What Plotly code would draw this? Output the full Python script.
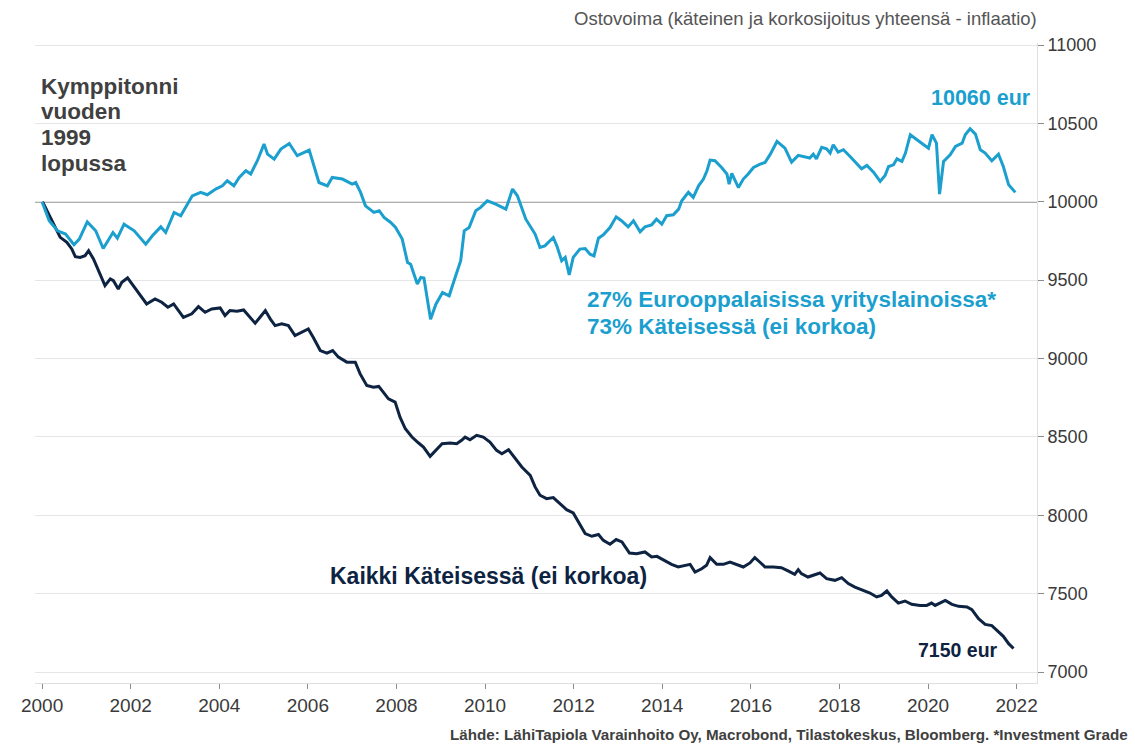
import plotly.graph_objects as go

# --- Data ---
mix_dates = [2000.00, 2000.16, 2000.35, 2000.53, 2000.72, 2000.84, 2001.02, 2001.21, 2001.38, 2001.51,
             2001.60, 2001.70, 2001.85, 2002.08, 2002.34, 2002.49, 2002.68, 2002.79, 2002.98, 2003.13,
             2003.24, 2003.39, 2003.58, 2003.73, 2003.92, 2004.07, 2004.18, 2004.33, 2004.45, 2004.60,
             2004.71, 2004.86, 2005.01, 2005.09, 2005.24, 2005.39, 2005.58, 2005.76, 2006.03, 2006.25,
             2006.44, 2006.55, 2006.78, 2006.89, 2007.00, 2007.08, 2007.19, 2007.30, 2007.49, 2007.61,
             2007.72, 2007.87, 2007.98, 2008.13, 2008.25, 2008.32, 2008.47, 2008.55, 2008.62, 2008.77,
             2008.89, 2009.04, 2009.19, 2009.30, 2009.45, 2009.53, 2009.64, 2009.79, 2009.90, 2010.05,
             2010.24, 2010.47, 2010.62, 2010.73, 2010.92, 2011.13, 2011.24, 2011.35, 2011.47, 2011.54,
             2011.62, 2011.73, 2011.81, 2011.90, 2011.99, 2012.14, 2012.26, 2012.37, 2012.46, 2012.56,
             2012.67, 2012.82, 2012.96, 2013.08, 2013.23, 2013.35, 2013.50, 2013.61, 2013.76, 2013.87,
             2013.99, 2014.10, 2014.25, 2014.37, 2014.44, 2014.59, 2014.70, 2014.82, 2014.93, 2015.01,
             2015.08, 2015.19, 2015.34, 2015.46, 2015.51, 2015.57, 2015.72, 2015.83, 2015.94, 2016.06,
             2016.21, 2016.32, 2016.44, 2016.59, 2016.77, 2016.92, 2017.07, 2017.22, 2017.33, 2017.41,
             2017.48, 2017.60, 2017.71, 2017.79, 2017.86, 2017.97, 2018.09, 2018.24, 2018.35, 2018.50,
             2018.62, 2018.77, 2018.92, 2019.03, 2019.11, 2019.22, 2019.30, 2019.41, 2019.49, 2019.60,
             2019.75, 2019.90, 2020.01, 2020.09, 2020.19, 2020.26, 2020.35, 2020.50, 2020.62, 2020.77,
             2020.84, 2020.95, 2021.07, 2021.18, 2021.29, 2021.44, 2021.59, 2021.70, 2021.82, 2021.97]
mix_values = [10000, 9879, 9815, 9794, 9726, 9762, 9872, 9815, 9702, 9762,
              9804, 9768, 9857, 9815, 9730, 9783, 9840, 9804, 9932, 9911,
              9964, 10038, 10060, 10045, 10081, 10102, 10134, 10102, 10155, 10198,
              10177, 10262, 10368, 10304, 10272, 10336, 10372, 10294, 10330, 10123,
              10102, 10155, 10145, 10130, 10113, 10123, 10060, 9974, 9932, 9943,
              9900, 9868, 9836, 9762, 9613, 9602, 9475, 9517, 9513, 9251,
              9347, 9421, 9400, 9496, 9624, 9815, 9836, 9943, 9964, 10006,
              9985, 9953, 10081, 10038, 9889, 9794, 9709, 9719, 9751, 9772,
              9719, 9624, 9645, 9534, 9645, 9698, 9702, 9666, 9655, 9768,
              9789, 9836, 9904, 9879, 9840, 9879, 9809, 9840, 9853, 9889,
              9857, 9911, 9917, 9953, 10006, 10060, 10028, 10102, 10145, 10198,
              10266, 10262, 10219, 10177, 10113, 10181, 10091, 10145, 10177, 10219,
              10240, 10251, 10304, 10385, 10342, 10253, 10296, 10289, 10279, 10304,
              10274, 10347, 10338, 10311, 10364, 10317, 10332, 10289, 10257, 10211,
              10232, 10189, 10130, 10168, 10225, 10236, 10274, 10257, 10311, 10428,
              10396, 10364, 10342, 10428, 10374, 10049, 10257, 10300, 10353, 10374,
              10428, 10466, 10432, 10332, 10311, 10262, 10304, 10225, 10108, 10060]

cash_dates = [2000.01, 2000.18, 2000.41, 2000.56, 2000.67, 2000.75, 2000.86, 2000.97, 2001.05, 2001.16,
              2001.27, 2001.42, 2001.54, 2001.61, 2001.72, 2001.80, 2001.93, 2002.06, 2002.21, 2002.36,
              2002.55, 2002.70, 2002.84, 2002.97, 2003.08, 2003.19, 2003.38, 2003.53, 2003.68, 2003.83,
              2004.02, 2004.13, 2004.24, 2004.40, 2004.55, 2004.66, 2004.81, 2004.92, 2005.04, 2005.15,
              2005.26, 2005.41, 2005.56, 2005.71, 2005.86, 2006.01, 2006.12, 2006.28, 2006.43, 2006.56,
              2006.69, 2006.88, 2007.07, 2007.18, 2007.33, 2007.48, 2007.60, 2007.71, 2007.82, 2007.97,
              2008.08, 2008.20, 2008.35, 2008.50, 2008.61, 2008.76, 2008.88, 2009.03, 2009.21, 2009.36,
              2009.47, 2009.55, 2009.66, 2009.81, 2009.96, 2010.11, 2010.26, 2010.38, 2010.53, 2010.68,
              2010.83, 2011.02, 2011.13, 2011.24, 2011.39, 2011.54, 2011.69, 2011.84, 2011.99, 2012.11,
              2012.26, 2012.41, 2012.56, 2012.67, 2012.82, 2012.96, 2013.09, 2013.26, 2013.42, 2013.61,
              2013.76, 2013.88, 2014.03, 2014.21, 2014.36, 2014.51, 2014.63, 2014.74, 2014.89, 2015.00,
              2015.08, 2015.23, 2015.38, 2015.53, 2015.68, 2015.83, 2015.98, 2016.09, 2016.20, 2016.32,
              2016.51, 2016.69, 2016.84, 2016.99, 2017.07, 2017.14, 2017.29, 2017.41, 2017.56, 2017.71,
              2017.90, 2018.05, 2018.20, 2018.35, 2018.50, 2018.69, 2018.84, 2018.95, 2019.07, 2019.18,
              2019.33, 2019.48, 2019.63, 2019.82, 2019.97, 2020.08, 2020.16, 2020.39, 2020.54, 2020.69,
              2020.88, 2020.99, 2021.14, 2021.29, 2021.44, 2021.55, 2021.70, 2021.82, 2021.93]
cash_values = [10000, 9900, 9773, 9741, 9699, 9650, 9645, 9656, 9688, 9635,
               9561, 9465, 9508, 9497, 9444, 9486, 9514, 9465, 9401, 9348,
               9380, 9359, 9327, 9348, 9306, 9263, 9285, 9331, 9295, 9316,
               9323, 9274, 9306, 9302, 9310, 9274, 9225, 9263, 9306, 9253,
               9210, 9221, 9210, 9147, 9168, 9189, 9136, 9051, 9034, 9051,
               9009, 8977, 8977, 8902, 8828, 8817, 8822, 8786, 8743, 8722,
               8626, 8552, 8499, 8461, 8435, 8376, 8414, 8457, 8461, 8457,
               8478, 8499, 8482, 8510, 8499, 8467, 8414, 8393, 8418, 8361,
               8308, 8255, 8181, 8128, 8106, 8113, 8074, 8036, 8015, 7957,
               7883, 7866, 7877, 7840, 7815, 7845, 7830, 7759, 7755, 7766,
               7734, 7738, 7713, 7687, 7670, 7681, 7687, 7638, 7659, 7681,
               7730, 7687, 7687, 7702, 7687, 7670, 7696, 7730, 7702, 7670,
               7670, 7666, 7645, 7623, 7653, 7628, 7606, 7617, 7632, 7596,
               7585, 7602, 7564, 7542, 7525, 7504, 7479, 7489, 7517, 7479,
               7440, 7453, 7432, 7425, 7425, 7440, 7425, 7457, 7432, 7419,
               7415, 7398, 7340, 7304, 7296, 7266, 7228, 7181, 7150]

x_ticks = [2000, 2002, 2004, 2006, 2008, 2010, 2012, 2014, 2016, 2018, 2020, 2022]
y_ticks = [7000, 7500, 8000, 8500, 9000, 9500, 10000, 10500, 11000]
baseline = 10000

TEAL = "#1b9fcf"
NAVY = "#0d2341"
FONT = "Liberation Sans, Arial, sans-serif"

fig = go.Figure()
fig.add_trace(go.Scatter(x=cash_dates, y=cash_values, mode="lines",
                         line=dict(color=NAVY, width=3), showlegend=False))
fig.add_trace(go.Scatter(x=mix_dates, y=mix_values, mode="lines",
                         line=dict(color=TEAL, width=3), showlegend=False))

fig.add_shape(type="line", xref="paper", x0=0, x1=1, yref="y", y0=baseline, y1=baseline,
              line=dict(color="#5e5e5e", width=1.5), layer="below")

fig.update_layout(
    width=1135, height=745,
    margin=dict(l=35, r=98, t=43, b=62),
    paper_bgcolor="white", plot_bgcolor="white",
    font=dict(family=FONT, color="#3a3a3a"),
    xaxis=dict(range=[1999.84, 2022.46], tickvals=x_ticks, ticktext=[str(t) for t in x_ticks],
               showgrid=False, zeroline=False, showline=True, linecolor="#dedede", linewidth=1,
               ticks="outside", ticklen=5, tickcolor="#8a8a8a", tickwidth=1,
               tickfont=dict(size=19, color="#3a3a3a")),
    yaxis=dict(range=[6930, 11013], side="right", tickvals=y_ticks,
               ticktext=[str(t) for t in y_ticks],
               showgrid=True, gridcolor="#e6e6e6", gridwidth=1, zeroline=False,
               showline=True, linecolor="#e0e0e0", linewidth=1,
               ticks="outside", ticklen=6, tickcolor="#8a8a8a", tickwidth=1,
               tickfont=dict(size=18, color="#3a3a3a")),
)

ann = [
    dict(text="Ostovoima (käteinen ja korkosijoitus yhteensä - inflaatio)", xref="paper", yref="paper",
         x=1.002, y=1.038, xanchor="right", yanchor="middle", font=dict(size=18.5, color="#555555")),
    dict(text="<b>Kymppitonni</b>", x=1999.92, y=10735, xanchor="left", yanchor="middle",
         font=dict(size=22.5, color="#404040")),
    dict(text="<b>vuoden</b>", x=1999.92, y=10575, xanchor="left", yanchor="middle",
         font=dict(size=22.5, color="#404040")),
    dict(text="<b>1999</b>", x=1999.92, y=10410, xanchor="left", yanchor="middle",
         font=dict(size=22.5, color="#404040")),
    dict(text="<b>lopussa</b>", x=1999.92, y=10245, xanchor="left", yanchor="middle",
         font=dict(size=22.5, color="#404040")),
    dict(text="<b>10060 eur</b>", x=2022.36, y=10663,
         xanchor="right", yanchor="middle", font=dict(size=21.5, color=TEAL)),
    dict(text="<b>27% Eurooppalaisissa yrityslainoissa*</b>",
         x=2012.26, y=9378, xanchor="left", yanchor="middle", font=dict(size=22.5, color=TEAL)),
    dict(text="<b>73% Käteisessä (ei korkoa)</b>",
         x=2012.26, y=9205, xanchor="left", yanchor="middle", font=dict(size=22.5, color=TEAL)),
    dict(text="<b>Kaikki Käteisessä (ei korkoa)</b>", x=2006.46, y=7611,
         xanchor="left", yanchor="middle", font=dict(size=23, color=NAVY)),
    dict(text="<b>7150 eur</b>", x=2021.63, y=7140,
         xanchor="right", yanchor="middle", font=dict(size=19.5, color=NAVY)),
    dict(text="<b>Lähde: LähiTapiola Varainhoito Oy, Macrobond, Tilastokeskus, Bloomberg. *Investment Grade</b>",
         xref="paper", yref="paper", x=1.093, y=-0.081, xanchor="right", yanchor="middle",
         font=dict(size=15.2, color="#404040")),
]
for a in ann:
    a.setdefault("xref", "x")
    a.setdefault("yref", "y")
    a["showarrow"] = False
    fig.add_annotation(**a)

fig.write_html("out.html",
               config={"displayModeBar": False, "staticPlot": True},
               post_script="document.body.style.margin='0';document.body.style.overflow='hidden';")
